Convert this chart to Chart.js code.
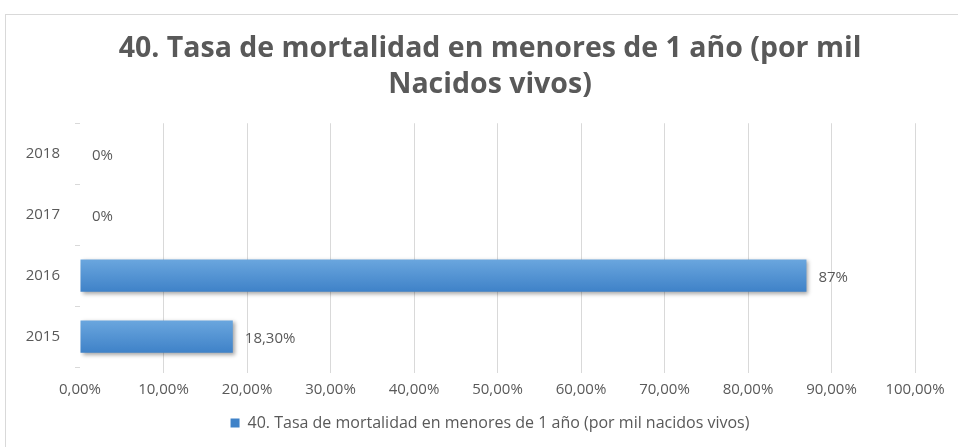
<!DOCTYPE html>
<html>
<head>
<meta charset="utf-8">
<script src="https://cdn.jsdelivr.net/npm/chart.js@4"></script>
<style>
  body { margin: 0; background: #fff; }
  #frame {
    position: absolute; left: 5px; top: 14px;
    width: 953px; height: 433px;
    border-top: 1px solid #d9d9d9; border-left: 1px solid #d9d9d9;
  }
</style>
</head>
<body>
<div id="frame"><canvas id="chart" width="952" height="432"></canvas></div>
<script>
const years = ["2015", "2016", "2017", "2018"];
const values = [18.3, 87, 0, 0];
const valueLabels = ["18,30%", "87%", "0%", "0%"];
const xTicks = [0, 10, 20, 30, 40, 50, 60, 70, 80, 90, 100];
const seriesName = "40. Tasa de mortalidad en menores de 1 año (por mil nacidos vivos)";

const FONT = "'Open Sans', sans-serif";
const GREY = "#595959";

// bar shadow + value labels at the end of each bar
const barLabels = {
  id: "barLabels",
  afterLayout(chart) {
    // centre title and legend like the original (offset to the right)
    if (chart.titleBlock) chart.titleBlock.left = 59;
    if (chart.legend) chart.legend.left = 59;
  },
  beforeDatasetsDraw(chart) {
    const ctx = chart.ctx;
    ctx.save();
    ctx.shadowColor = "rgba(0,0,0,0.35)";
    ctx.shadowBlur = 4;
    ctx.shadowOffsetX = 2;
    ctx.shadowOffsetY = 2;
  },
  afterDatasetsDraw(chart) {
    const ctx = chart.ctx;
    ctx.restore();
    ctx.save();
    ctx.font = "15px " + FONT;
    ctx.fillStyle = GREY;
    ctx.textBaseline = "middle";
    chart.getDatasetMeta(0).data.forEach((bar, i) => {
      ctx.fillText(valueLabels[i], bar.x + 12, bar.y + 2);
    });
    ctx.restore();
  }
};

new Chart(document.getElementById("chart"), {
  type: "bar",
  data: {
    labels: years,
    datasets: [{
      label: seriesName,
      data: values,
      backgroundColor: (c) => {
        const ys = c.chart.scales && c.chart.scales.y;
        const y = ys ? ys.getPixelForValue(c.dataIndex) : NaN;
        if (!Number.isFinite(y)) return "#5b9bd5";
        const g = c.chart.ctx.createLinearGradient(0, y - 16, 0, y + 16);
        g.addColorStop(0, "#6aa6de");
        g.addColorStop(1, "#3f82c8");
        return g;
      },
      barPercentage: 0.53,
      categoryPercentage: 1
    }]
  },
  options: {
    indexAxis: "y",
    responsive: false,
    animation: false,
    layout: { padding: { left: 0, right: 43, top: 0, bottom: 6 } },
    plugins: {
      title: {
        display: true,
        text: ["40. Tasa de mortalidad en menores de 1 año (por mil", "Nacidos vivos)"],
        color: GREY,
        font: { family: FONT, size: 28.5, weight: "bold", lineHeight: 1.25 },
        padding: { top: 16, bottom: 21 }
      },
      legend: {
        position: "bottom",
        labels: {
          color: GREY,
          font: { family: FONT, size: 16 },
          boxWidth: 9, boxHeight: 9,
          padding: 8
        }
      },
      tooltip: { enabled: false }
    },
    scales: {
      x: {
        min: 0, max: 100,
        afterBuildTicks: (s) => { s.ticks = xTicks.map(v => ({ value: v })); },
        ticks: {
          color: GREY,
          font: { family: FONT, size: 15 },
          padding: 8,
          callback: (v) => v.toFixed(2).replace(".", ",") + "%"
        },
        grid: {
          color: (c) => c.index === 0 ? "rgba(0,0,0,0)" : "#d9d9d9",
          tickLength: 6
        },
        border: { display: false }
      },
      y: {
        reverse: true,
        afterFit: (s) => { s.width = 74; },
        ticks: {
          color: GREY,
          font: { family: FONT, size: 15 },
          padding: 15
        },
        grid: {
          drawOnChartArea: false,
          color: "#d9d9d9",
          tickLength: 5
        },
        border: { display: false }
      }
    }
  },
  plugins: [barLabels]
});
</script>
</body>
</html>
